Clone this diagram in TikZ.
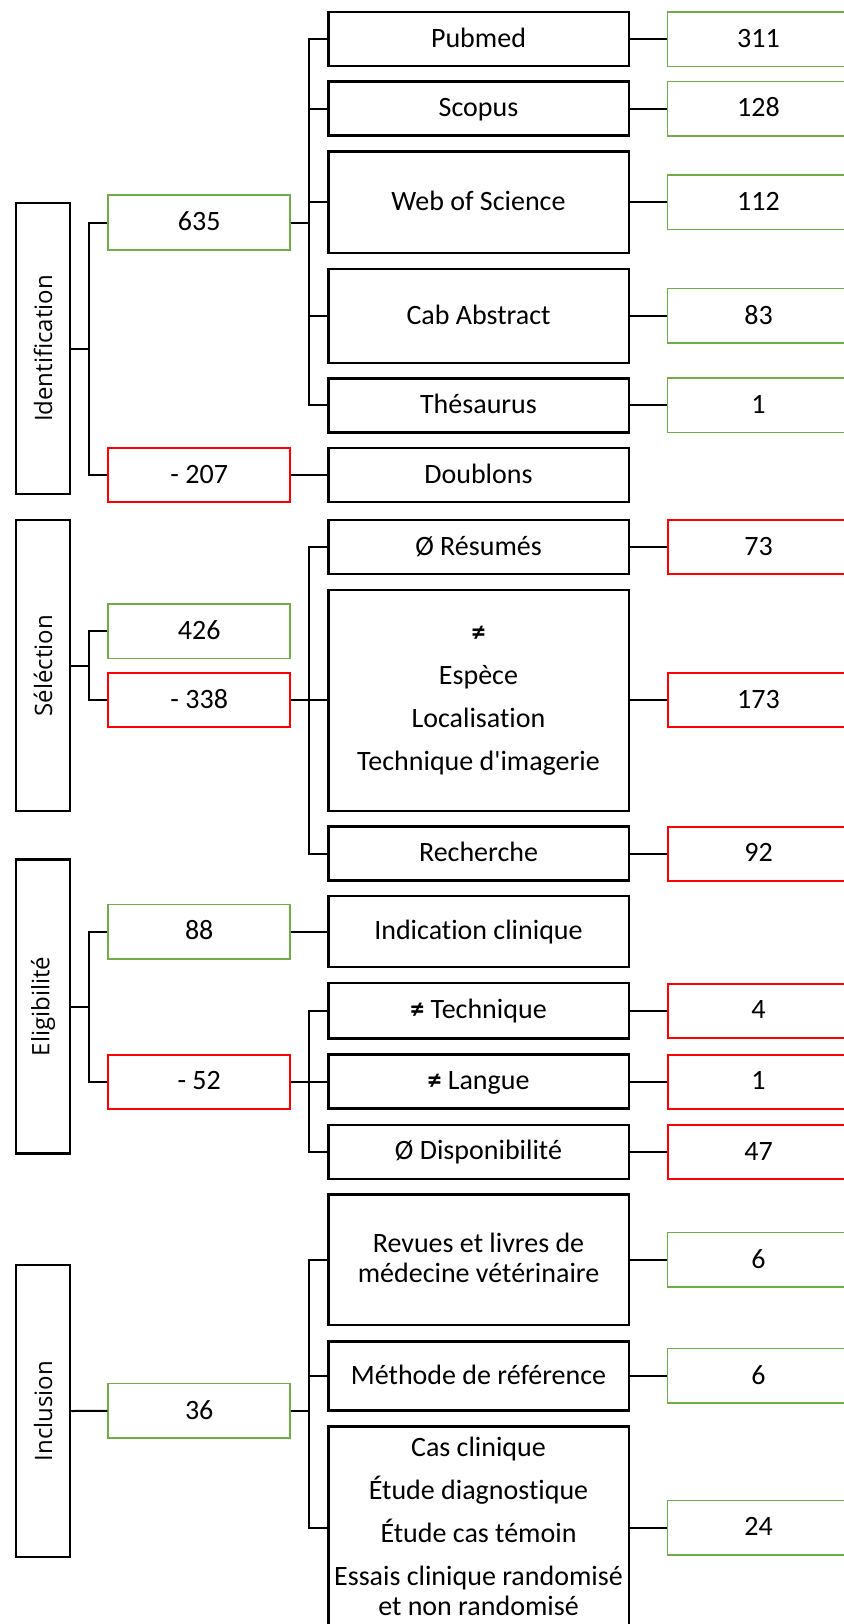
\documentclass[tikz,border=0pt]{standalone}
\usepackage{fontspec}
\setmainfont{Carlito}[Ligatures=NoCommon]
\newfontfamily\phasefont{Open Sans}
\usepackage{tikz}
\usepackage{xcolor}
\definecolor{keepgreen}{RGB}{112,173,71}
\newcommand{\boxstrut}{\rule[-3.6pt]{0pt}{23.6pt}}

\begin{document}
\begin{tikzpicture}[x=1pt,y=-1pt,
    phase/.style={draw,line width=2.5pt,minimum width=54pt,inner sep=0pt,font=\phasefont\fontsize{24}{28}\selectfont},
    boxtext/.style={inner sep=0pt,font=\fontsize{28}{30}\selectfont,execute at begin node=\boxstrut,execute at end node=\boxstrut},
    kept/.style={boxtext,draw=keepgreen,line width=1.5pt,minimum width=182pt,minimum height=54.5pt},
    dropped/.style={boxtext,draw=red,line width=2pt,minimum width=182pt,minimum height=54pt},
    crit/.style={boxtext,draw,line width=2.5pt,minimum width=300.5pt,minimum height=54pt,align=center},
    link/.style={line width=2pt}]
                \useasboundingbox (0,0) rectangle (843,1624);
                % phases
                \node[phase,minimum height=291pt] (ident) at (43,348.5) {\rotatebox{90}{Identification}};
                \node[phase,minimum height=291pt] (select) at (43,665.5) {\rotatebox{90}{Séléction}};
                \node[phase,minimum height=294pt] (elig) at (43,1006.5) {\rotatebox{90}{Eligibilité}};
                \node[phase,minimum height=292pt] (incl) at (43,1411) {\rotatebox{90}{Inclusion}};
                % counts
                \node[kept] (n635) at (199.2,222.5) {635};
                \node[dropped] (n207) at (199.2,475) {- 207};
                \node[kept] (n426) at (199.2,631) {426};
                \node[dropped] (n338) at (199.2,700) {- 338};
                \node[kept] (n88) at (199.2,931.6) {88};
                \node[dropped] (n52) at (199.2,1081.7) {- 52};
                \node[kept] (n36) at (199.2,1410.8) {36};
                % criteria
                \node[crit] (pubmed) at (478.5,39.1) {Pubmed};
                \node[crit] (scopus) at (478.5,108.6) {Scopus};
                \node[crit,minimum height=101.5pt] (wos) at (478.5,202.3) {Web of Science};
                \node[crit,minimum height=94pt] (cab) at (478.5,315.9) {Cab Abstract};
                \node[crit] (thes) at (478.5,405.4) {Thésaurus};
                \node[crit] (doubl) at (478.5,475) {Doublons};
                \node[crit] (resum) at (478.5,547) {Ø Résumés};
                \node[crit,minimum height=221pt] (diff) at (478.5,700.3) {\textbf{≠}\\[13pt]Espèce\\[13pt]Localisation\\[13pt]Technique d\textquotesingle imagerie};
                \node[crit] (rech) at (478.5,853.5) {Recherche};
                \node[crit,minimum height=71pt] (indic) at (478.5,931.6) {Indication clinique};
                \node[crit,minimum height=55.5pt] (tech) at (478.5,1010.7) {\textbf{≠} Technique};
                \node[crit] (langue) at (478.5,1081.7) {\textbf{≠} Langue};
                \node[crit] (dispo) at (478.5,1151.8) {Ø Disponibilité};
                \node[crit,minimum height=130.5pt] (revues) at (478.5,1259.9) {Revues et livres de\\médecine vétérinaire};
                \node[crit,minimum height=69pt] (methode) at (478.5,1375.9) {Méthode de référence};
                \node[crit,minimum height=202pt] (etudes) at (478.5,1527.7) {Cas clinique\\[13pt]Étude diagnostique\\[13pt]Étude cas témoin\\[13pt]Essais clinique randomisé\\et non randomisé};
                % totals per criterion
                \node[kept] (r311) at (758.5,39.1) {311};
                \node[kept] (r128) at (758.5,108.6) {128};
                \node[kept] (r112) at (758.5,202.3) {112};
                \node[kept] (r83) at (758.5,315.9) {83};
                \node[kept] (r1) at (758.5,405.4) {1};
                \node[dropped] (r73) at (758.5,547) {73};
                \node[dropped] (r173) at (758.5,700.3) {173};
                \node[dropped] (r92) at (758.5,853.5) {92};
                \node[dropped] (r4) at (758.5,1010.7) {4};
                \node[dropped] (r1b) at (758.5,1081.7) {1};
                \node[dropped] (r47) at (758.5,1151.8) {47};
                \node[kept] (r6a) at (758.5,1259.9) {6};
                \node[kept] (r6b) at (758.5,1375.9) {6};
                \node[kept] (r24) at (758.5,1527.7) {24};
                % brackets
                \draw[link] (ident.east) -- ++(18,0) |- (n635.west);
                \draw[link] (ident.east) -- ++(18,0) |- (n207.west);
                \draw[link] (select.east) -- ++(18,0) |- (n426.west);
                \draw[link] (select.east) -- ++(18,0) |- (n338.west);
                \draw[link] (elig.east) -- ++(18,0) |- (n88.west);
                \draw[link] (elig.east) -- ++(18,0) |- (n52.west);
                \draw[link] (incl.east) -- (n36.west);
                \draw[link] (n635.east) -- ++(18,0) |- (pubmed.west);
                \draw[link] (n635.east) -- ++(18,0) |- (scopus.west);
                \draw[link] (n635.east) -- ++(18,0) |- (wos.west);
                \draw[link] (n635.east) -- ++(18,0) |- (cab.west);
                \draw[link] (n635.east) -- ++(18,0) |- (thes.west);
                \draw[link] (n207.east) -- (doubl.west);
                \draw[link] (n338.east) -- ++(18,0) |- (resum.west);
                \draw[link] (n338.east) -- ++(18,0) |- (diff.west);
                \draw[link] (n338.east) -- ++(18,0) |- (rech.west);
                \draw[link] (n88.east) -- (indic.west);
                \draw[link] (n52.east) -- ++(18,0) |- (tech.west);
                \draw[link] (n52.east) -- ++(18,0) |- (langue.west);
                \draw[link] (n52.east) -- ++(18,0) |- (dispo.west);
                \draw[link] (n36.east) -- ++(18,0) |- (revues.west);
                \draw[link] (n36.east) -- ++(18,0) |- (methode.west);
                \draw[link] (n36.east) -- ++(18,0) |- (etudes.west);
                % criterion to total
                \draw[link] (pubmed.east) -- (r311.west);
                \draw[link] (scopus.east) -- (r128.west);
                \draw[link] (wos.east) -- (r112.west);
                \draw[link] (cab.east) -- (r83.west);
                \draw[link] (thes.east) -- (r1.west);
                \draw[link] (resum.east) -- (r73.west);
                \draw[link] (diff.east) -- (r173.west);
                \draw[link] (rech.east) -- (r92.west);
                \draw[link] (tech.east) -- (r4.west);
                \draw[link] (langue.east) -- (r1b.west);
                \draw[link] (dispo.east) -- (r47.west);
                \draw[link] (revues.east) -- (r6a.west);
                \draw[link] (methode.east) -- (r6b.west);
                \draw[link] (etudes.east) -- (r24.west);
            \end{tikzpicture}
\end{document}
